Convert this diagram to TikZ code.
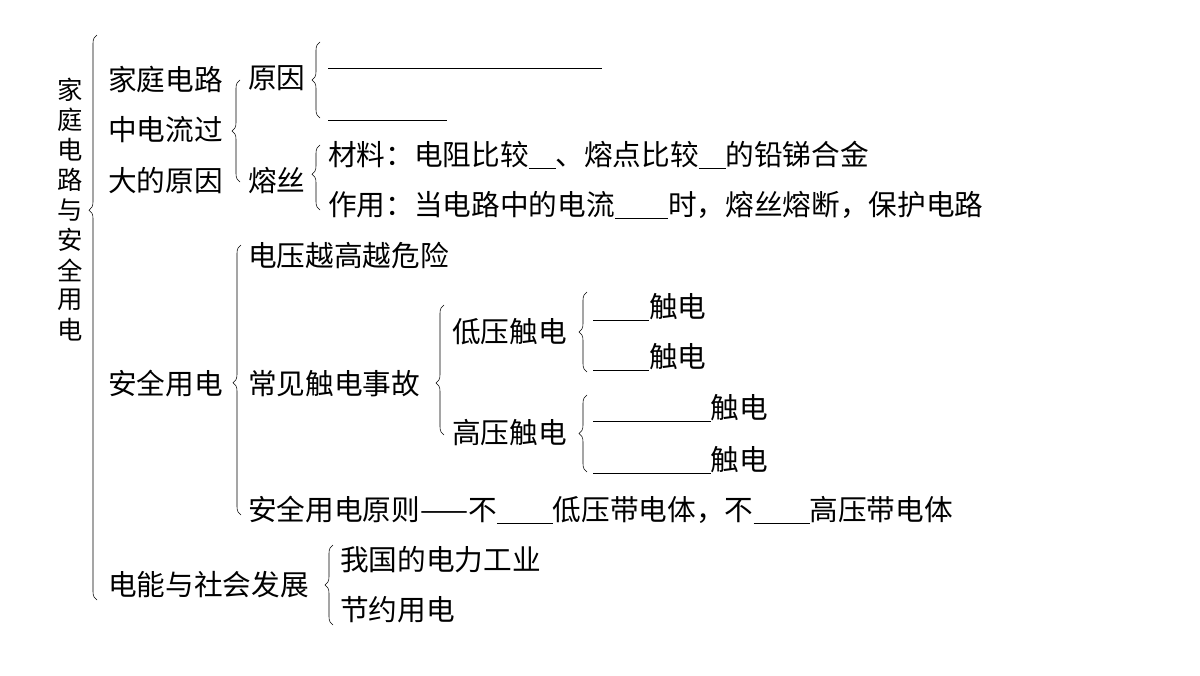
\documentclass[tikz,border=0pt]{standalone}
\usepackage{fontspec}
\setmainfont{Noto Sans CJK SC}
\usetikzlibrary{decorations.pathreplacing}
\newcommand{\blank}[1]{\rule[-3pt]{#1pt}{0.6pt}}
\begin{document}
\begin{tikzpicture}[x=0.75pt,y=-0.75pt,
  txt/.style={anchor=west,inner sep=0pt,font=\fontsize{21.5}{24}\selectfont},
  ttl/.style={inner sep=0pt,font=\fontsize{19}{20}\selectfont},
  br/.style={decorate,decoration={brace,amplitude=6pt,aspect=#1},thin},
  br/.default=0.5]

        \useasboundingbox (0,0) rectangle (1200,675);

        % title and top brace
        \foreach \c [count=\i] in {家,庭,电,路,与,安,全,用,电}
          \node[ttl] (title\i) at (70,60+30*\i) {\c};
        \draw[br=0.69] (97,600) -- (97,35);

        % household circuit
        \node[txt] (jt1) at (108,80) {家庭电路};
        \node[txt] (jt2) at (108,130) {中电流过};
        \node[txt] (jt3) at (108,181) {大的原因};
        \draw[br=0.5] (240,182) -- (240,80);
        \node[txt] (yy) at (248,78) {原因};
        \draw[br=0.5] (320,118) -- (320,42);
        \coordinate (l1a) at (328,68);
        \coordinate (l1b) at (602,68);
        \coordinate (l2a) at (328,120);
        \coordinate (l2b) at (447,120);
        \draw (l1a) -- (l1b);
        \draw (l2a) -- (l2b);
        \node[txt] (rs) at (248,181) {熔丝};
        \draw[br=0.55] (320,210) -- (320,145);
        \node[txt] (cl) at (328,155) {材料：电阻比较\blank{20}、熔点比较\blank{20}的铅锑合金};
        \node[txt] (zy) at (328,205) {作用：当电路中的电流\blank{40}时，熔丝熔断，保护电路};

        % safe use
        \node[txt] (aq) at (108,384) {安全用电};
        \draw[br=0.49] (241,515) -- (241,245);
        \node[txt] (dy) at (248,256) {电压越高越危险};
        \node[txt] (cj) at (248,384) {常见触电事故};
        \draw[br=0.4] (444,435) -- (444,305);
        \node[txt] (dy1) at (452,332) {低压触电};
        \draw[br=0.5] (587,372) -- (587,292);
        \node[txt] (d1) at (593,307) {\blank{42}触电};
        \node[txt] (d2) at (593,357) {\blank{42}触电};
        \node[txt] (gy) at (452,433) {高压触电};
        \draw[br=0.5] (587,472) -- (587,395);
        \node[txt] (g1) at (593,408) {\blank{88}触电};
        \node[txt] (g2) at (593,460) {\blank{88}触电};
        \node[txt] (yz) at (248,510) {安全用电原则——不\blank{42}低压带电体，不\blank{42}高压带电体};

        % energy and society
        \node[txt] (dn) at (108,585) {电能与社会发展};
        \draw[br=0.5] (333,625) -- (333,545);
        \node[txt] (wg) at (340,560) {我国的电力工业};
        \node[txt] (jy) at (340,610) {节约用电};

\end{tikzpicture}
\end{document}
